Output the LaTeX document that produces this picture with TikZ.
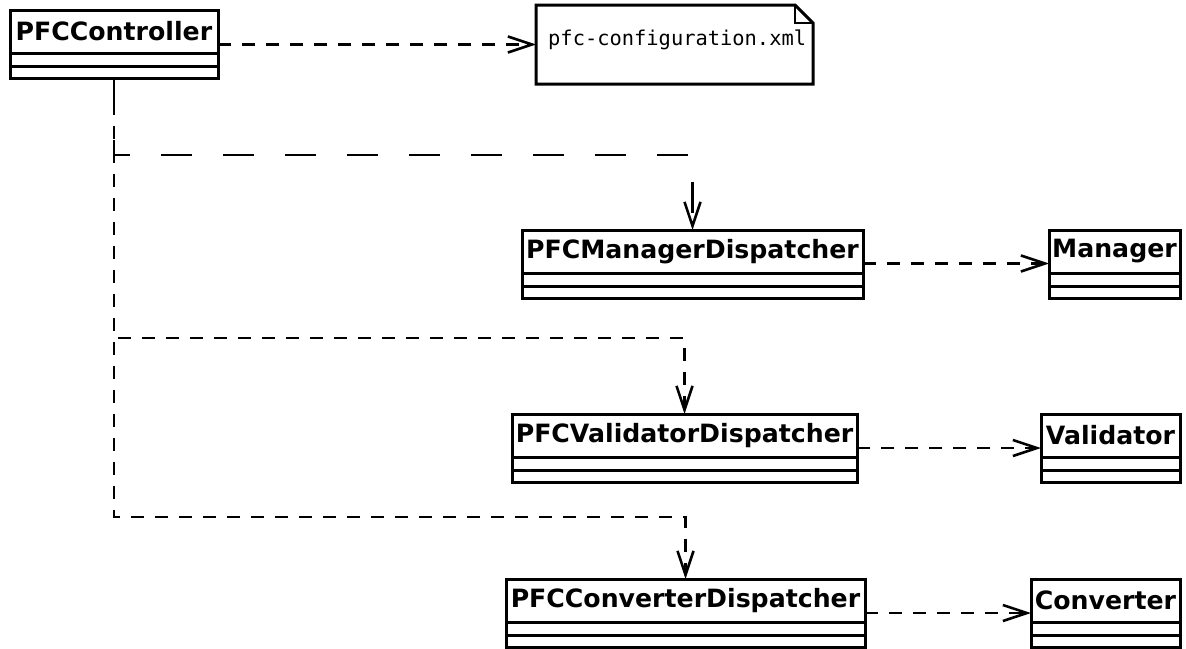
\documentclass[tikz,border=0pt]{standalone}
\usepackage{fontspec}
\setmainfont{DejaVu Sans}
\newfontfamily\monof{DejaVu Sans Mono}
\usetikzlibrary{arrows.meta,calc}
\newcommand\umlclass[5]{%
  \node[namebox, minimum width=#4pt] (#1) at (#2,#3) {#5};
  \node[compbox, minimum width=#4pt, minimum height=13pt] (#1c1) at (#1.south) {};
  \node[compbox, minimum width=#4pt, minimum height=12pt] (#1c2) at (#1c1.south) {};
}
\begin{document}
\begin{tikzpicture}[x=1pt,y=-1pt,
  namebox/.style={draw, line width=3pt, minimum height=43pt, anchor=north west,
    inner sep=0pt, outer sep=0pt, font=\fontsize{25.2}{28}\selectfont\bfseries},
  compbox/.style={draw, line width=3pt, inner sep=0pt, outer sep=0pt, anchor=north},
  deparrow/.style={-{Straight Barb[length=24pt,width=16pt,line width=2.6pt]}},
  dep/.style={line width=2.8pt, dash pattern=on 13pt off 11pt, deparrow},
  deplong/.style={line width=2.8pt, dash pattern=on 31pt off 31pt, deparrow},
  notebox/.style={minimum width=277pt, minimum height=79pt, anchor=north west, inner sep=0pt, outer sep=0pt},
  notetxt/.style={font=\monof\fontsize{20.4}{24}\selectfont, anchor=base west, inner sep=0pt}
]
\useasboundingbox[fill=white] (0,0) rectangle (1186,648);

% classes
\umlclass{ctrl}{10}{10}{208}{PFCController}
\umlclass{mgrd}{522}{230}{341}{PFCManagerDispatcher}
\umlclass{mgr}{1049}{230}{131}{Manager}
\umlclass{vald}{512}{414}{345}{PFCValidatorDispatcher}
\umlclass{val}{1041}{414}{139}{Validator}
\umlclass{convd}{506}{579}{359}{PFCConverterDispatcher}
\umlclass{conv}{1031}{579}{149}{Converter}

% note
\node[notebox] (note) at (536,5) {};
\draw[line width=3pt] (note.north west) -- ($(note.north east)+(-18,0)$)
  -- ($(note.north east)+(0,18)$) -- (note.south east) -- (note.south west) -- cycle;
\draw[line width=1.2pt] ($(note.north east)+(-18,0)$) -- ($(note.north east)+(-18,18)$)
  -- ($(note.north east)+(0,18)$);
\node[notetxt] (notetext) at (548,45) {pfc-configuration.xml};

% connectors
\coordinate (k1) at (0,155);
\coordinate (k2) at (0,338);
\coordinate (k3) at (0,517);
\draw[dep] (ctrl.east |- note.west) -- (note.west);
\draw[deplong] (ctrlc2.south) |- (mgrd.north |- k1) -- (mgrd.north);
\draw[dep] (ctrlc2.south) |- (vald.north |- k2) -- (vald.north);
\draw[dep] (ctrlc2.south) |- (convd.north |- k3) -- (convd.north);
\draw[dep] ($(mgrd.east)+(0,12)$) -- ($(mgr.west)+(0,12)$);
\draw[dep] ($(vald.east)+(0,12.5)$) -- ($(val.west)+(0,12.5)$);
\draw[dep] ($(convd.east)+(0,12.5)$) -- ($(conv.west)+(0,12.5)$);
\end{tikzpicture}
\end{document}
